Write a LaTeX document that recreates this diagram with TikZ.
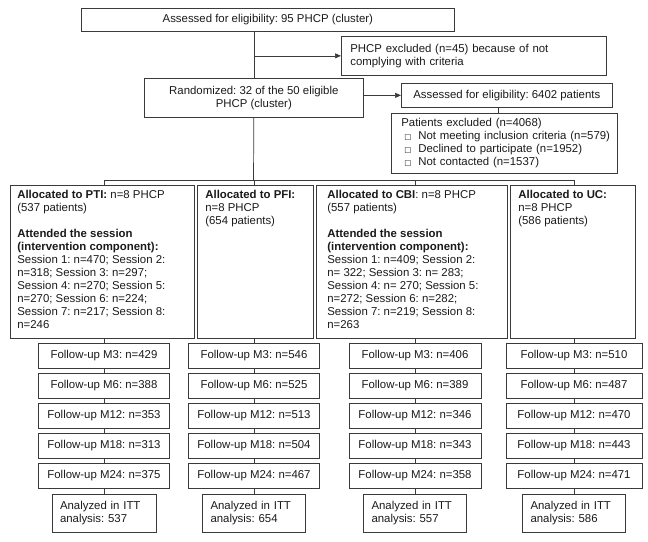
\documentclass[tikz,border=0pt]{standalone}
\usepackage{fontspec}
\setmainfont{Liberation Sans}
\newfontfamily\symfont{DejaVu Sans}
\usetikzlibrary{arrows.meta}
\definecolor{linec}{HTML}{3A3A3A}
\definecolor{txtc}{HTML}{1A1A1A}
\newcommand{\exbul}[1]{\mbox{\hspace*{3pt}\makebox[14pt][l]{\symfont\fontsize{7.5}{7.5}\selectfont □}#1}}
\frenchspacing
\begin{document}
\frenchspacing
\begin{tikzpicture}[x=1pt,y=-1pt,
  font=\fontsize{11.4}{13}\selectfont\frenchspacing,
  box/.style={draw=linec, line width=0.7pt, rectangle, inner sep=0pt, text=txtc},
  conn/.style={draw=linec, line width=0.7pt},
  arr/.style={conn, -{Triangle[length=6pt,width=5pt]}},
  fu/.style={box, minimum height=25pt},
  itt/.style={box, minimum height=38pt, align=left, inner xsep=8pt}]
\useasboundingbox (0,0) rectangle (648,541);

% top part
\node[box, anchor=north west, minimum width=373pt, minimum height=23pt] (top) at (81,8)
  {Assessed for eligibility: 95 PHCP (cluster)};
\node[box, anchor=north west, minimum width=265pt, minimum height=39pt, text width=247pt, inner xsep=9pt, align=left] (excl) at (341,36)
  {PHCP excluded (n=45) because of not\\complying with criteria};
\node[box, anchor=north west, minimum width=219pt, minimum height=39pt, align=center] (rand) at (144,78)
  {Randomized: 32 of the 50 eligible\\PHCP (cluster)};
\node[box, anchor=north west, minimum width=211pt, minimum height=24pt] (p6402) at (401,83)
  {Assessed for eligibility: 6402 patients};
\node[box, anchor=north west, minimum width=226pt, minimum height=60pt, text width=206pt, inner xsep=10pt, align=left] (pexcl) at (391,113)
  {Patients excluded (n=4068)\\
   \exbul{Not meeting inclusion criteria (n=579)}\\
   \exbul{Declined to participate (n=1952)}\\
   \exbul{Not contacted (n=1537)}};

\draw[conn] (rand.north |- top.south) -- (rand.north);
\draw[arr] (rand.north |- excl.west) -- (excl.west);
\draw[arr] (rand.east |- p6402.west) -- (p6402.west);
\draw[conn] ([xshift=-8.5pt]p6402.south) -- ([xshift=-8.5pt]p6402.south |- pexcl.north);

% allocation boxes
\node[box, anchor=north west, inner xsep=7pt, inner ysep=4pt] (pti) at (10,185)
  {\parbox[c][145pt][t]{170pt}{\raggedright\strut\textbf{Allocated to PTI:} n=8 PHCP\\
   (537 patients)\\[13pt]
   \textbf{Attended the session}\\
   \textbf{(intervention component):}\\
   Session 1: n=470; Session 2:\\
   n=318; Session 3: n=297;\\
   Session 4: n=270; Session 5:\\
   n=270; Session 6: n=224;\\
   Session 7: n=217; Session 8:\\
   n=246}};
\node[box, anchor=north west, inner xsep=8pt, inner ysep=4pt] (pfi) at (197,185)
  {\parbox[c][145pt][t]{100pt}{\raggedright\strut\textbf{Allocated to PFI:}\\
   n=8 PHCP\\
   (654 patients)}};
\node[box, anchor=north west, inner xsep=11pt, inner ysep=4pt] (cbi) at (316,185)
  {\parbox[c][145pt][t]{169pt}{\raggedright\strut\textbf{Allocated to CBI}: n=8 PHCP\\
   (557 patients)\\[13pt]
   \textbf{Attended the session}\\
   \textbf{(intervention component):}\\
   Session 1: n=409; Session 2:\\
   n= 322; Session 3: n= 283;\\
   Session 4: n= 270; Session 5:\\
   n=272; Session 6: n=282;\\
   Session 7: n=219; Session 8:\\
   n=263}};
\node[box, anchor=north west, inner xsep=8pt, inner ysep=4pt] (uc) at (510,185)
  {\parbox[c][145pt][t]{109pt}{\raggedright\strut\textbf{Allocated to UC:}\\
   n=8 PHCP\\
   (586 patients)}};

\coordinate (br) at (253.5,180);
\draw[conn] (rand.south) -- (br);

% follow-up columns
\foreach \c/\x/\w/\ww/\m/\s/\t/\u/\v/\n in {
  pti/104/131/104/429/388/353/313/375/537,
  pfi/254/131/103/546/525/513/504/467/654,
  cbi/415/132/103/406/389/346/343/358/557,
  uc/574/136/103/510/487/470/443/471/586}{
  \node[fu, minimum width=\w] (\c-1) at (\x,355.5) {Follow-up M3: n=\m};
  \node[fu, minimum width=\w] (\c-2) at (\x,385.5) {Follow-up M6: n=\s};
  \node[fu, minimum width=\w] (\c-3) at (\x,415.5) {Follow-up M12: n=\t};
  \node[fu, minimum width=\w] (\c-4) at (\x,445.5) {Follow-up M18: n=\u};
  \node[fu, minimum width=\w] (\c-5) at (\x,475.5) {Follow-up M24: n=\v};
  \node[itt, text width=\ww-16] (\c-6) at (\x,513) {Analyzed in ITT\\analysis: \n};
  \draw[conn] (\c-1.north |- br) -- (\c-1.north |- \c.north);
  \draw[conn] (\c-1.north) -- (\c-1.north |- \c.south);
  \draw[conn] (\c-1.south) -- (\c-2.north);
  \draw[conn] (\c-2.south) -- (\c-3.north);
  \draw[conn] (\c-3.south) -- (\c-4.north);
  \draw[conn] (\c-4.south) -- (\c-5.north);
  \draw[conn] (\c-5.south) -- (\c-6.north);
}
\draw[conn] (pti-1.north |- br) -- (uc-1.north |- br);
\end{tikzpicture}
\end{document}
